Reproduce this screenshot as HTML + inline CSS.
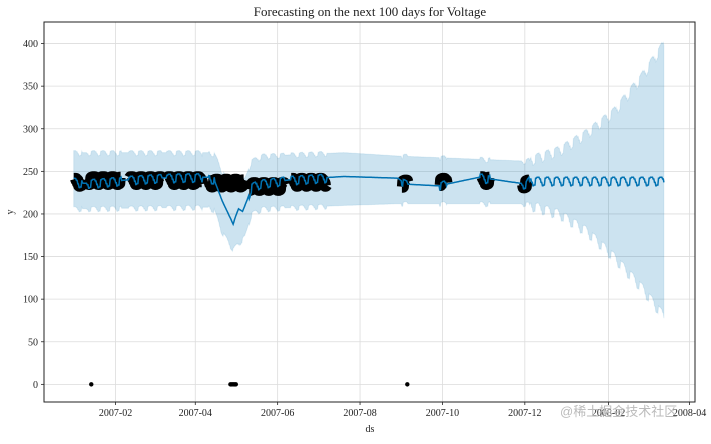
<!DOCTYPE html>
<html><head><meta charset="utf-8"><style>
body{margin:0;background:#fff;}
svg text{font-family:"Liberation Serif","DejaVu Serif",serif;}
</style></head><body>
<svg id="chart" width="711" height="439" xmlns="http://www.w3.org/2000/svg">
<text x="370" y="16" font-size="13" text-anchor="middle" fill="#222">Forecasting on the next 100 days for Voltage</text>
<g id="grid"></g>
<g id="band"></g>
<g id="obs"></g>
<g id="line"></g>
<g id="axes"></g>
<text x="13" y="212" font-size="10" text-anchor="middle" transform="rotate(-90 13 212)" fill="#222">y</text>
<text x="370" y="432" font-size="10" text-anchor="middle" fill="#222">ds</text>
<text x="560" y="416" font-size="13" fill="#bbb" style="font-family:'Liberation Sans','Noto Sans CJK SC',sans-serif">@稀土掘金技术社区</text>
</svg>
<script>
// days since 2007-01-01
const xTickDays=[31,90,151,212,273,334,396,456];
const xTickLabels=["2007-02","2007-04","2007-06","2007-08","2007-10","2007-12","2008-02","2008-04"];
const yTicks=[0,50,100,150,200,250,300,350,400];
const trendDays=[0,8,20,40,60,80,100,104,110,116,118,120,122,125,128,132,140,160,200,240,246,270,273,300,305,335,337,437];
const trendVals=[238,236,237,240,242,243,243,240,215,195,188,198,206,203,215,232,236,240,244,242,235,233,234,243,242,235,239,239];
const weekly=[4,4,2,-2,-6,-5,3];
const upDays=[0,100,104,110,118,126,132,140,200,240,335,360,380,400,420,437];
const upVals=[272,272,270,250,228,240,262,268,272,268,262,275,295,320,360,400];
const loDays=[0,100,104,110,118,126,132,140,200,240,335,360,380,400,420,437];
const loVals=[206,208,204,178,158,172,200,206,210,212,212,200,180,150,115,80];
const clusterStart=[0,10,41,69,100,130,161,243,271,301,332];
const clusterEnd=[6,35,65,95,126,156,187,247,276,308,337];
const clusterLevel=[238,240,240,240,237,233,238,236,238,240,236];
const zeroDays=[13,116,117,118,119,120,247];
const zeroVals=[0,0,0,0,0,0,0];

const NS="http://www.w3.org/2000/svg";
const L=44,R=695,T=22,B=402;
const dMin=-22,dMax=460,vMin=-20.7,vMax=425.3;
const xs=d=>L+(d-dMin)/(dMax-dMin)*(R-L);
const ys=v=>B-(v-vMin)/(vMax-vMin)*(B-T);
function interp(ds,vs,d){if(d<=ds[0])return vs[0];for(let i=1;i<ds.length;i++){if(d<=ds[i]){const t=(d-ds[i-1])/(ds[i]-ds[i-1]);return vs[i-1]+t*(vs[i]-vs[i-1]);}}return vs[vs.length-1];}
const hasData=d=>clusterStart.some((s,i)=>d>=s&&d<=clusterEnd[i])||d>=338;
const wk=d=>weekly[((Math.floor(d)%7)+7)%7];
function yhat(d){return interp(trendDays,trendVals,d)+(hasData(d)&&!(d>104&&d<130)?wk(d):0);}
function mk(tag,attrs,parent){const e=document.createElementNS(NS,tag);for(const k in attrs)e.setAttribute(k,attrs[k]);parent.appendChild(e);return e;}
const grid=document.getElementById('grid'),axes=document.getElementById('axes');
yTicks.forEach((v,i)=>{
 const g=mk('line',{x1:L,x2:R,y1:ys(v),y2:ys(v),stroke:'#dcdcdc','stroke-width':0.8},grid);
 
 const t=mk('text',{x:L-6,y:ys(v)+3.5,'font-size':10,'text-anchor':'end',fill:'#222'},axes);t.textContent=v;
 
 mk('line',{x1:L-3,x2:L,y1:ys(v),y2:ys(v),stroke:'#222','stroke-width':0.8},axes);
});
xTickDays.forEach((d,i)=>{
 const g=mk('line',{x1:xs(d),x2:xs(d),y1:T,y2:B,stroke:'#dcdcdc','stroke-width':0.8},grid);
 
 const t=mk('text',{x:xs(d),y:B+14,'font-size':10,'text-anchor':'middle',fill:'#222'},axes);t.textContent=xTickLabels[i];
 
 mk('line',{x1:xs(d),x2:xs(d),y1:B,y2:B+3,stroke:'#222','stroke-width':0.8},axes);
});
const frame=mk('rect',{x:L,y:T,width:R-L,height:B-T,fill:'none',stroke:'#222','stroke-width':1},axes);

// band
let up=[],lo=[];
for(let d=0;d<=437;d+=0.5){const w=hasData(d)?wk(d):0;
 up.push(xs(d).toFixed(1)+','+ys(interp(upDays,upVals,d)+w*(d>338?1.2:0.6)).toFixed(1));
 lo.unshift(xs(d).toFixed(1)+','+ys(interp(loDays,loVals,d)+w*(d>338?1.2:0.6)).toFixed(1));}
const bp=mk('polygon',{points:up.concat(lo).join(' '),fill:'#0072b2','fill-opacity':0.2,stroke:'#0072b2','stroke-opacity':0.1},document.getElementById('band'));

// observations
const obs=document.getElementById('obs');
clusterStart.forEach((s,i)=>{let p=[];for(let d=s;d<=clusterEnd[i];d+=0.25)p.push(xs(d).toFixed(1)+','+ys(clusterLevel[i]+wk(d)*0.8).toFixed(1));
 const e=mk('polyline',{points:p.join(' '),fill:'none',stroke:'#000','stroke-width':12,'stroke-linejoin':'round','stroke-linecap':'butt'},obs);
 });
zeroDays.forEach((d,i)=>{const e=mk('circle',{cx:xs(d),cy:ys(zeroVals[i]),r:2.2,fill:'#000'},obs);
 });
// line
let lp=[];for(let d=0;d<=437;d+=0.5)lp.push(xs(d).toFixed(1)+','+ys(yhat(d)).toFixed(1));
const ln=mk('polyline',{points:lp.join(' '),fill:'none',stroke:'#0072b2','stroke-width':1.5},document.getElementById('line'));

</script>
</body></html>
